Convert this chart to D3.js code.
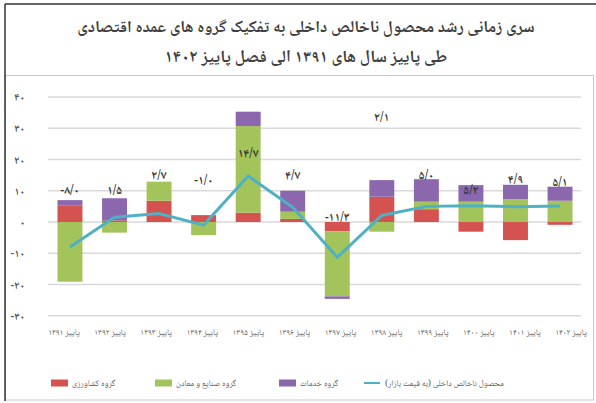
<!DOCTYPE html>
<html>
<head>
<meta charset="utf-8">
<script src="https://cdn.jsdelivr.net/npm/d3@7"></script>
<style>
  html, body { margin: 0; padding: 0; background: #fff; }
  svg { display: block; }
  text { font-family: "DejaVu Sans", "Noto Sans", sans-serif; }
</style>
</head>
<body>
<svg id="chart" width="596" height="403"></svg>
<script>
// ---------------- data ----------------
const titleLines = [
  "سری زمانی رشد محصول ناخالص داخلی به تفکیک گروه های عمده اقتصادی",
  "طی پاییز سال های ۱۳۹۱ الی فصل پاییز ۱۴۰۲"
];
const categories = [
  "پاییز ۱۳۹۱", "پاییز ۱۳۹۲", "پاییز ۱۳۹۳", "پاییز ۱۳۹۴", "پاییز ۱۳۹۵", "پاییز ۱۳۹۶",
  "پاییز ۱۳۹۷", "پاییز ۱۳۹۸", "پاییز ۱۳۹۹", "پاییز ۱۴۰۰", "پاییز ۱۴۰۱", "پاییز ۱۴۰۲"
];
const agriculture = [5.2, 0.5, 6.8, 2.2, 3.0, 1.0, -3.0, 8.1, 4.1, -3.1, -5.8, -0.9];
const industry    = [-19.1, -3.4, 6.1, -4.2, 27.7, 2.3, -20.8, -3.1, 2.4, 6.5, 7.3, 6.8];
const services    = [1.8, 7.1, 0, 0, 4.6, 6.7, -0.8, 5.3, 7.2, 5.3, 4.6, 4.5];
const gdp         = [-8.0, 1.5, 2.7, -1.0, 14.7, 4.7, -11.3, 2.1, 5.0, 5.2, 4.9, 5.1];
const yTicks      = [-30, -20, -10, 0, 10, 20, 30, 40];
const seriesNames = ["گروه کشاورزی", "گروه صنایع و معادن", "گروه خدمات"];
const lineName    = "محصول ناخالص داخلی (به قیمت بازار)";

// where each value label sits (in axis units), as placed in the original
const labelAt = [10.2, 10.2, 15, 13.4, 22, 15, 1.6, 33.6, 15, 10.2, 13.8, 12.8];

// ---------------- helpers ----------------
const FA = "۰۱۲۳۴۵۶۷۸۹";
const fa = s => String(s).replace(/\d/g, d => FA[d]);
const fmt1 = v => fa(v.toFixed(1).replace(".", "/"));

const colors = ["#d4524f", "#a3c35b", "#8b68ad"];
const lineColor = "#4eb1c4";
const arabicFont = '"Noto Naskh Arabic", "Noto Sans Arabic", "DejaVu Sans", sans-serif';

const svg = d3.select("#chart");
svg.append("rect").attr("width", 596).attr("height", 403).attr("fill", "#fff");

// frame
svg.append("rect").attr("x", 5.5).attr("y", 75.5).attr("width", 588).attr("height", 324.5)
  .attr("fill", "none").attr("stroke", "#c8c8c8").attr("stroke-width", 1);
svg.append("line").attr("x1", 5).attr("x2", 596).attr("y1", 4).attr("y2", 4)
  .attr("stroke", "#333").attr("stroke-width", 1.5);
svg.append("line").attr("x1", 5).attr("x2", 5).attr("y1", 4).attr("y2", 401)
  .attr("stroke", "#333").attr("stroke-width", 1.5);

// title
const titleWidths = [458, 290];
const titleBase = [32, 62];
titleLines.forEach((t, i) => {
  const el = svg.append("text")
    .attr("x", 306).attr("y", titleBase[i])
    .attr("text-anchor", "middle")
    .attr("direction", "rtl")
    .style("unicode-bidi", "embed")
    .style("font-family", arabicFont)
    .attr("font-weight", "bold")
    .attr("font-size", 15)
    .attr("fill", "#404040")
    .text(t);
  const w = el.node().getComputedTextLength();
  el.attr("font-size", Math.min(17, 15 * titleWidths[i] / w));
});

// scales
const x = d3.scaleBand().domain(categories).range([47.7, 582.3]).paddingInner(0.44).paddingOuter(0.22);
const y = d3.scaleLinear().domain([-30, 40]).range([315.75, 97]);
const xLab = d3.scalePoint().domain(categories).range([64, 571]);

// gridlines
svg.append("g").selectAll("line").data(yTicks).join("line")
  .attr("x1", 48).attr("x2", 581)
  .attr("y1", d => y(d)).attr("y2", d => y(d))
  .attr("stroke", "#d9d9d9").attr("stroke-width", 1.3);

// y axis labels
const yAxis = d3.axisLeft(y).tickValues(yTicks).tickSize(0).tickPadding(0).tickFormat(d => fa(d));
const yg = svg.append("g").attr("transform", "translate(25,0)").call(yAxis);
yg.select(".domain").remove();
yg.selectAll("text").attr("font-size", 11).attr("font-weight", "bold").attr("fill", "#555")
  .style("font-family", arabicFont);

// stacked bars
const rows = categories.map((c, i) => ({ cat: c, a: agriculture[i], b: industry[i], c: services[i] }));
const stack = d3.stack().keys(["a", "b", "c"]).offset(d3.stackOffsetDiverging);
const series = stack(rows);
svg.append("g").selectAll("g").data(series).join("g")
  .attr("fill", (d, i) => colors[i])
  .selectAll("rect").data(d => d).join("rect")
  .attr("x", d => x(d.data.cat))
  .attr("width", x.bandwidth())
  .attr("y", d => y(Math.max(d[0], d[1])))
  .attr("height", d => Math.abs(y(d[0]) - y(d[1])));

// GDP line
const line = d3.line().x((d, i) => x(categories[i]) + x.bandwidth() / 2).y(d => y(d));
svg.append("path").datum(gdp).attr("d", line)
  .attr("fill", "none").attr("stroke", lineColor).attr("stroke-width", 3)
  .attr("stroke-linejoin", "miter");

// value labels
svg.append("g").selectAll("text").data(gdp).join("text")
  .attr("x", (d, i) => x(categories[i]) + x.bandwidth() / 2)
  .attr("y", (d, i) => y(labelAt[i]) + 4)
  .attr("text-anchor", "middle")
  .style("font-family", arabicFont)
  .attr("font-size", 12).attr("font-weight", "bold").attr("fill", "#3a3a3a")
  .text(d => fmt1(d));

// x labels
svg.append("g").selectAll("text").data(categories).join("text")
  .attr("x", d => xLab(d)).attr("y", 335)
  .attr("text-anchor", "middle")
  .attr("direction", "rtl").style("unicode-bidi", "embed")
  .style("font-family", arabicFont)
  .attr("font-size", 8.5).attr("fill", "#595959")
  .text(d => d);

// legend
const legendItems = [
  { name: seriesNames[0], color: colors[0], type: "rect", x: 51 },
  { name: seriesNames[1], color: colors[1], type: "rect", x: 155 },
  { name: seriesNames[2], color: colors[2], type: "rect", x: 279 },
  { name: lineName, color: lineColor, type: "line", x: 364 }
];
const ly = 383;
const lg = svg.append("g");
legendItems.forEach(it => {
  if (it.type === "rect") {
    lg.append("rect").attr("x", it.x).attr("y", ly - 3.5).attr("width", 17).attr("height", 7).attr("fill", it.color);
  } else {
    lg.append("line").attr("x1", it.x).attr("x2", it.x + 16).attr("y1", ly).attr("y2", ly)
      .attr("stroke", it.color).attr("stroke-width", 2);
  }
  const t = lg.append("text")
    .attr("y", ly + 3)
    .attr("text-anchor", "middle")
    .attr("direction", "rtl").style("unicode-bidi", "embed")
    .style("font-family", arabicFont)
    .attr("font-size", 8.5).attr("fill", "#595959")
    .text(it.name);
  const w = t.node().getComputedTextLength();
  t.attr("x", it.x + 21 + w / 2);
});
</script>
</body>
</html>
